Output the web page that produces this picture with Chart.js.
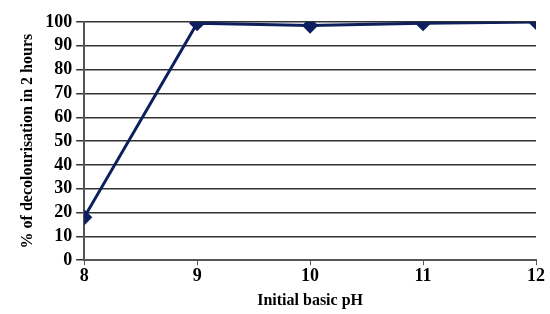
<!DOCTYPE html>
<html>
<head>
<meta charset="utf-8">
<script src="https://cdn.jsdelivr.net/npm/chart.js@4.4.0/dist/chart.umd.min.js"></script>
<style>
  body { margin: 0; background: #fff; }
  #wrap { width: 550px; height: 314px; }
</style>
</head>
<body>
<div id="wrap"><canvas id="phChart"></canvas></div>
<script>
// Data
const phValues = [8, 9, 10, 11, 12];
const decolourisation = [18, 99.5, 98.5, 99.5, 100];
const yTicks = [0, 10, 20, 30, 40, 50, 60, 70, 80, 90, 100];

const serif = 'Liberation Serif, Times New Roman, serif';

const ctx = document.getElementById('phChart').getContext('2d');
new Chart(ctx, {
    type: 'line',
    data: {
        datasets: [{
            label: '% decolourisation',
            data: phValues.map((x, i) => ({ x: x, y: decolourisation[i] })),
            borderColor: '#0d1f5c',
            backgroundColor: '#0d1f5c',
            borderWidth: 3,
            pointStyle: 'rectRot',
            pointRadius: 6,
            tension: 0
        }]
    },
    options: {
        responsive: true,
        maintainAspectRatio: false,
        animation: false,
        layout: { padding: { left: 14, right: 14, top: 22, bottom: 2 } },
        plugins: { legend: { display: false }, tooltip: { enabled: false } },
        scales: {
            x: {
                type: 'linear',
                min: 8,
                max: 12,
                afterBuildTicks: axis => { axis.ticks = phValues.map(v => ({ value: v })); },
                grid: { drawOnChartArea: false, color: '#555', tickLength: 5 },
                border: { color: '#555', width: 2 },
                ticks: { color: '#000', font: { family: serif, size: 18, weight: 'bold' }, padding: 0, autoSkip: false, maxRotation: 0 },
                title: { display: true, text: 'Initial basic pH', color: '#000',
                         font: { family: serif, size: 16, weight: 'bold' }, padding: { top: 4, bottom: 2 } }
            },
            y: {
                min: 0,
                max: 100,
                afterBuildTicks: axis => { axis.ticks = yTicks.map(v => ({ value: v })); },
                grid: { color: '#333', lineWidth: 1.5, tickLength: 8 },
                border: { color: '#555', width: 2 },
                ticks: { color: '#000', font: { family: serif, size: 18, weight: 'bold' }, padding: 4, autoSkip: false },
                title: { display: true, text: '% of decolourisation in 2 hours', color: '#000',
                         font: { family: serif, size: 16, weight: 'bold' }, padding: { bottom: 4 } }
            }
        }
    }
});
</script>
</body>
</html>
